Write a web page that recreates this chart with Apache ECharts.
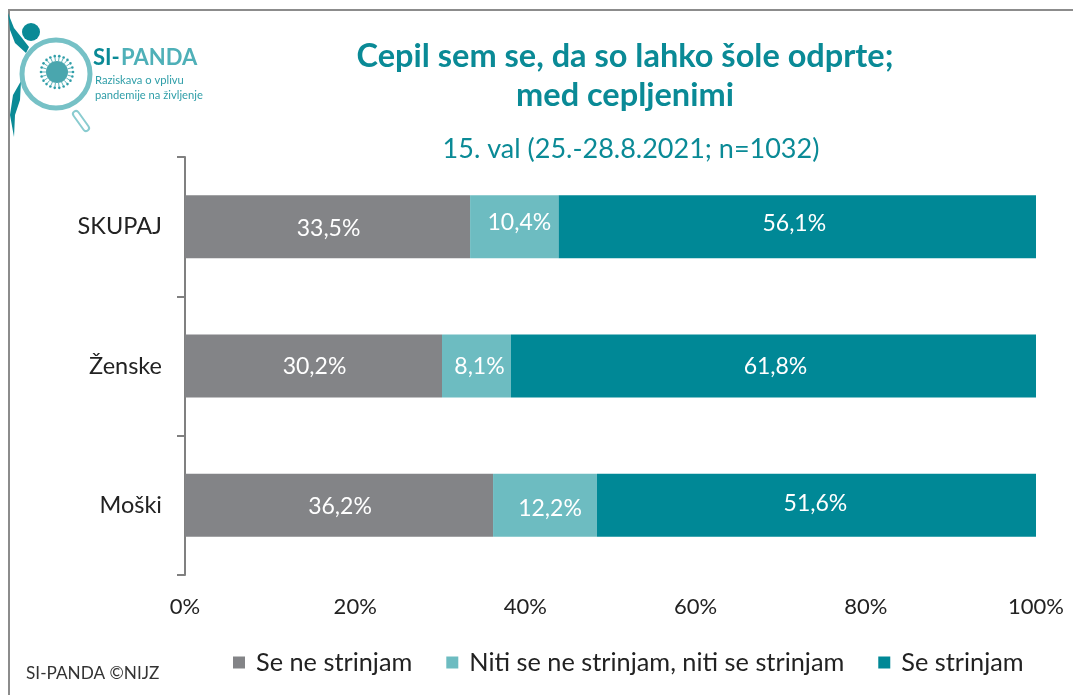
<!DOCTYPE html>
<html><head><meta charset="utf-8">
<style>html,body{margin:0;padding:0;background:#fff}#c{width:1073px;height:695px}</style>
<script src="https://cdn.jsdelivr.net/npm/echarts@6/dist/echarts.min.js"></script>
</head><body><div id="c"></div>
<script>
const categories = ['SKUPAJ', 'Ženske', 'Moški'];
const seNeStrinjam = [33.5, 30.2, 36.2];
const niti = [10.4, 8.1, 12.2];
const seStrinjam = [56.1, 61.8, 51.6];
const seriesNames = ['Se ne strinjam', 'Niti se ne strinjam, niti se strinjam', 'Se strinjam'];
const xTicks = [0, 20, 40, 60, 80, 100];
const titleText = 'Cepil sem se, da so lahko šole odprte;\nmed cepljenimi';
const subtitleText = '15. val (25.-28.8.2021; n=1032)';
const FONT = 'Lato';
const TEAL = '#008896', MID = '#6dbcc1', GREY = '#838487', LOGO = '#0a8a96';
// hand-placed label nudges seen in the original, per series then per category
const labelNudges = [
  [[1, 2], [1, 1], [1, 1]],
  [[5, -4], [3, 1], [5, 3]],
  [[-3, -3], [2, 1], [-1, -2]]
];

const fmt = v => v.toFixed(1).replace('.', ',') + '%';
const mk = (name, data, color, nudges) => ({
  name, type: 'bar', stack: 'a', barWidth: 63,
  data: data.map((value, i) => ({ value, label: { offset: nudges[i] } })),
  itemStyle: { color },
  label: { show: true, position: 'inside', color: '#fff', fontFamily: FONT, fontSize: 23,
           formatter: p => fmt(p.value) }
});

// logo decoration: virus spikes round the lens
const spikes = [];
for (let i = 0; i < 22; i++) {
  const a = i / 22 * Math.PI * 2;
  const x = 57, y = 72;
  spikes.push({ type: 'line', silent: true, shape: { x1: x + 11 * Math.cos(a), y1: y + 11 * Math.sin(a), x2: x + 15 * Math.cos(a), y2: y + 15 * Math.sin(a) }, style: { stroke: '#5fb3ba', lineWidth: 1 } });
  spikes.push({ type: 'circle', silent: true, shape: { cx: x + 16 * Math.cos(a), cy: y + 16 * Math.sin(a), r: 1.3 }, style: { fill: '#2f9ea8' } });
}

const chart = echarts.init(document.getElementById('c'), null, { renderer: 'canvas' });
chart.setOption({
  animation: false,
  backgroundColor: '#fff',
  title: [
    { text: titleText, left: 620, top: 32, textAlign: 'center',
      textStyle: { color: LOGO, fontFamily: FONT, fontWeight: 'bold', fontSize: 32.5, lineHeight: 39, align: 'center' } },
    { text: subtitleText, left: 626, top: 131, textAlign: 'center',
      textStyle: { color: LOGO, fontFamily: FONT, fontWeight: 'normal', fontSize: 27 } }
  ],
  legend: {
    left: 228, top: 645, itemWidth: 12, itemHeight: 12, itemGap: 34, icon: 'rect',
    data: seriesNames,
    textStyle: { fontFamily: FONT, fontSize: 25.3, color: '#222', padding: [0, 0, 0, 6] }
  },
  grid: { left: 185, right: 37, top: 157, bottom: 120, containLabel: false },
  xAxis: {
    type: 'value', min: 0, max: 100, interval: 20,
    axisLine: { show: false }, axisTick: { show: false }, splitLine: { show: false },
    axisLabel: { color: '#222', fontFamily: FONT, fontSize: 22, margin: 21, formatter: v => xTicks.includes(v) ? v + '%' : '' }
  },
  yAxis: {
    type: 'category', inverse: true, data: categories,
    axisLine: { show: true, lineStyle: { color: '#808080', width: 2 } },
    axisTick: { show: true, length: 8, lineStyle: { color: '#808080', width: 2 } },
    axisLabel: { color: '#222', fontFamily: FONT, fontSize: 23.5, margin: 23 }
  },
  series: [
    mk(seriesNames[0], seNeStrinjam, GREY, labelNudges[0]),
    mk(seriesNames[1], niti, MID, labelNudges[1]),
    mk(seriesNames[2], seStrinjam, TEAL, labelNudges[2])
  ],
  graphic: [
    { type: 'rect', silent: true, shape: { x: 8, y: 9, width: 1065, height: 2 }, style: { fill: '#8c8c8c' } },
    { type: 'rect', silent: true, shape: { x: 8, y: 9, width: 2, height: 686 }, style: { fill: '#8c8c8c' } },
    { type: 'circle', silent: true, shape: { cx: 31, cy: 32, r: 9 }, style: { fill: LOGO } },
    { type: 'polygon', silent: true, shape: { points: [[8, 13], [14, 28], [22, 38], [29, 47], [26, 53], [15, 43], [10, 30]] }, style: { fill: LOGO } },
    { type: 'polygon', silent: true, shape: { points: [[21, 81], [13, 95], [10, 115], [14, 137], [15, 115], [20, 100]] }, style: { fill: LOGO } },
    { type: 'circle', silent: true, shape: { cx: 56, cy: 74, r: 34 }, style: { fill: '#fff', stroke: '#76c1c6', lineWidth: 5 } },
    { type: 'line', silent: true, shape: { x1: 76, y1: 114, x2: 86, y2: 128 }, style: { stroke: '#8accd0', lineWidth: 8, lineCap: 'round' } },
    { type: 'line', silent: true, shape: { x1: 76, y1: 114, x2: 86, y2: 128 }, style: { stroke: '#fff', lineWidth: 4, lineCap: 'round' } },
    { type: 'circle', silent: true, shape: { cx: 57, cy: 72, r: 11 }, style: { fill: '#4aa6ae' } },
    ...spikes,
    { type: 'text', silent: true, style: { x: 93, y: 47, text: 'SI-', fill: LOGO, font: 'bold 22px Lato' } },
    { type: 'text', silent: true, style: { x: 121, y: 47, text: 'PANDA', fill: '#4fb0b8', font: 'bold 22px Lato' } },
    { type: 'text', silent: true, style: { x: 95, y: 75, text: 'Raziskava o vplivu', fill: '#2f9ea8', font: '11.2px Lato' } },
    { type: 'text', silent: true, style: { x: 95, y: 90, text: 'pandemije na življenje', fill: '#2f9ea8', font: '11.2px Lato' } },
    { type: 'text', silent: true, style: { x: 26, y: 665, text: 'SI-PANDA ©NIJZ', fill: '#333', font: '17.2px Lato' } }
  ]
});
</script></body></html>
